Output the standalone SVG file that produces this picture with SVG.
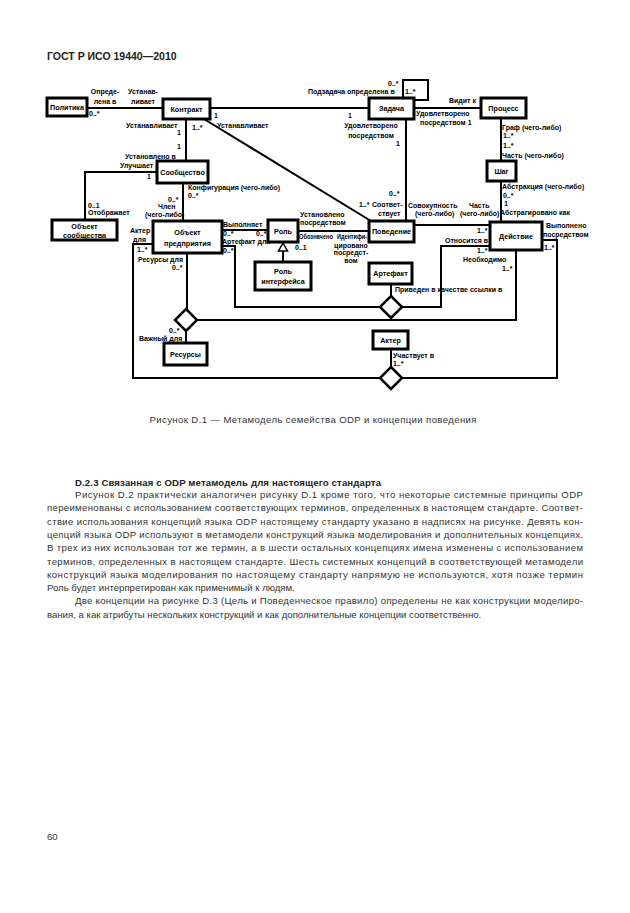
<svg xmlns="http://www.w3.org/2000/svg" width="630" height="913" viewBox="0 0 630 913">
<style>
.box{fill:#fff;stroke:#000;stroke-width:3}
.ln{fill:none;stroke:#000;stroke-width:2}
.dia{fill:#fff;stroke:#000;stroke-width:2.5}
.nt{font-family:"Liberation Sans",Arial,sans-serif;font-size:7.2px;font-weight:bold;text-anchor:middle;fill:#000}
.lb{font-family:"Liberation Sans",Arial,sans-serif;font-size:7px;font-weight:bold;fill:#000}
.mid{text-anchor:middle}
.bt{font-family:"Liberation Sans",Arial,sans-serif;font-size:9.6px;fill:#333}
.hd{font-family:"Liberation Sans",Arial,sans-serif;font-weight:bold;fill:#222}
</style>
<rect width="630" height="913" fill="#fff"/>
<text class="hd" x="47" y="60" font-size="10.5">ГОСТ Р ИСО 19440—2010</text>

<g id="connectors">
<path class="ln" d="M87,108 H163"/>
<path class="ln" d="M210,108 H369"/>
<path class="ln" d="M403,98 V80 H428 V100 H414"/>
<path class="ln" d="M414,108 H481"/>
<path class="ln" d="M501,118 V161"/>
<path class="ln" d="M501,181 V222"/>
<path class="ln" d="M406,119 V221"/>
<path class="ln" d="M204,119 L371,221"/>
<path class="ln" d="M186,119 V161"/>
<path class="ln" d="M157,172 H85 V220"/>
<path class="ln" d="M183,183 V221"/>
<path class="ln" d="M414,225 H490"/>
<path class="ln" d="M298,231 H369"/>
<path class="ln" d="M222,230 H268"/>
<path class="ln" d="M283,262 V251"/>
<polygon points="283,243 287.5,251 278.5,251" fill="#fff" stroke="#000" stroke-width="1.5"/>
<path class="ln" d="M222,246 H235 V307 H380"/>
<path class="ln" d="M402,307 H441 V246 H490"/>
<path class="ln" d="M391,284 V296"/>
<polygon class="dia" points="391,296 402,307 391,318 380,307"/>
<path class="ln" d="M187,253 V309"/>
<path class="ln" d="M186,331 V343"/>
<path class="ln" d="M197,320 H516 V250"/>
<polygon class="dia" points="186,309 197,320 186,331 175,320"/>
<path class="ln" d="M153,244 H133 V378 H380"/>
<path class="ln" d="M402,378 H557 V240 H542"/>
<path class="ln" d="M391,349 V367"/>
<polygon class="dia" points="391,367 402,378 391,389 380,378"/>
</g>

<g id="labels">
<text class="lb mid" x="105" y="94">Опреде-</text>
<text class="lb mid" x="105" y="104">лена в</text>
<text class="lb mid" x="143" y="94">Устанав-</text>
<text class="lb mid" x="143" y="104">ливает</text>
<text class="lb" x="89" y="116">0..*</text>
<text class="lb" x="214" y="118">1</text>
<text class="lb" x="217" y="128">Устанавливает</text>
<text class="lb" x="126" y="128">Устанавливает</text>
<text class="lb" x="192" y="130">1..*</text>
<text class="lb" x="177" y="135">1</text>
<text class="lb" x="177" y="149">1</text>
<text class="lb" x="125" y="158.5">Установлено в</text>
<text class="lb" x="120" y="167.5">Улучшает</text>
<text class="lb" x="147" y="179">1</text>
<text class="lb" x="388" y="86">0..*</text>
<text class="lb" x="308" y="94">Подзадача определена в</text>
<text class="lb" x="405" y="94">1..*</text>
<text class="lb" x="348" y="118">1</text>
<text class="lb mid" x="371" y="128">Удовлетворено</text>
<text class="lb mid" x="371" y="137.5">посредством</text>
<text class="lb" x="396" y="146">1</text>
<text class="lb" x="449" y="102.5">Видит к</text>
<text class="lb" x="416" y="115.5">Удовлетворено</text>
<text class="lb" x="420" y="124.5">посредством  1</text>
<text class="lb" x="502" y="129.5">Граф (чего-либо)</text>
<text class="lb" x="503" y="137.5">1..*</text>
<text class="lb" x="503" y="148">1..*</text>
<text class="lb" x="502" y="158">Часть (чего-либо)</text>
<text class="lb" x="502" y="188.5">Абстракция (чего-либо)</text>
<text class="lb" x="503" y="197.5">0..*</text>
<text class="lb" x="504" y="206">1</text>
<text class="lb" x="500" y="215">Абстрагировано как</text>
<text class="lb" x="408" y="207.5">Совокупность</text>
<text class="lb" x="415" y="216">(чего-либо)</text>
<text class="lb" x="469" y="207.5">Часть</text>
<text class="lb" x="460" y="216">(чего-либо)</text>
<text class="lb" x="477" y="232.5">1..*</text>
<text class="lb" x="389" y="195.5">0..*</text>
<text class="lb" x="359" y="206.5">1..*</text>
<text class="lb" x="372" y="206.5">Соответ-</text>
<text class="lb" x="378" y="215.5">ствует</text>
<text class="lb" x="188" y="189.5">Конфигурация (чего-либо)</text>
<text class="lb" x="188" y="197.5">0..*</text>
<text class="lb" x="168" y="202">0..*</text>
<text class="lb" x="158" y="209">Член</text>
<text class="lb" x="145" y="217">(чего-либо)</text>
<text class="lb" x="88" y="207.5">0..1</text>
<text class="lb" x="88" y="215">Отображает</text>
<text class="lb" x="130" y="233">Актер</text>
<text class="lb" x="133" y="241.5">для</text>
<text class="lb" x="137" y="252">1..*</text>
<text class="lb" x="138" y="261.5">Ресурсы для</text>
<text class="lb" x="172" y="270">0..*</text>
<text class="lb" x="223" y="227">Выполняет</text>
<text class="lb" x="223" y="236">0..*</text>
<text class="lb" x="256" y="236">0..*</text>
<text class="lb" x="222" y="243.5">Артефакт для</text>
<text class="lb" x="223" y="253">0..*</text>
<text class="lb" x="300" y="216.5">Установлено</text>
<text class="lb" x="300" y="225">посредством</text>
<text class="lb" x="299" y="238.5" textLength="34" lengthAdjust="spacingAndGlyphs">Обозначено</text>
<text class="lb" x="337" y="238.5" textLength="30" lengthAdjust="spacingAndGlyphs">Идентифи-</text>
<text class="lb mid" x="351" y="247.5">цировано</text>
<text class="lb mid" x="351" y="255">посредст-</text>
<text class="lb mid" x="351" y="262.5">вом</text>
<text class="lb" x="295" y="249.5">0..1</text>
<text class="lb" x="395" y="291.5">Приведен в качестве ссылки в</text>
<text class="lb" x="445" y="243">Относится в</text>
<text class="lb" x="477" y="252.5">1..*</text>
<text class="lb" x="463" y="261.5">Необходимо</text>
<text class="lb" x="502" y="270.5">1..*</text>
<text class="lb" x="546" y="227.5">Выполнено</text>
<text class="lb" x="543" y="236.5">посредством</text>
<text class="lb" x="544" y="249.5">1..*</text>
<text class="lb" x="393" y="357.5">Участвует в</text>
<text class="lb" x="393" y="365.5">1..*</text>
<text class="lb" x="169" y="332.5">0..*</text>
<text class="lb" x="139" y="340.5">Важный для</text>
</g>

<g id="n-politika"><rect class="box" x="47" y="98" width="40" height="18"/><text class="nt" x="67" y="109.5">Политика</text></g>
<g id="n-kontrakt"><rect class="box" x="163" y="99" width="47" height="20"/><text class="nt" x="186.5" y="111.5">Контракт</text></g>
<g id="n-zadacha"><rect class="box" x="369" y="98" width="45" height="21"/><text class="nt" x="391.5" y="111">Задача</text></g>
<g id="n-process"><rect class="box" x="481" y="98" width="45" height="20"/><text class="nt" x="503.5" y="110.5">Процесс</text></g>
<g id="n-shag"><rect class="box" x="487" y="161" width="29" height="20"/><text class="nt" x="501.5" y="173.5">Шаг</text></g>
<g id="n-soobshchestvo"><rect class="box" x="157" y="161" width="51" height="22"/><text class="nt" x="182.5" y="174.5">Сообщество</text></g>
<g id="n-obj-soobshchestva"><rect class="box" x="52" y="220" width="65" height="20"/><text class="nt" x="84.5" y="228.5">Объект</text><text class="nt" x="84.5" y="237.5">сообщества</text></g>
<g id="n-obj-predpriyatiya"><rect class="box" x="153" y="221" width="69" height="32"/><text class="nt" x="187.5" y="235">Объект</text><text class="nt" x="187.5" y="246">предприятия</text></g>
<g id="n-rol"><rect class="box" x="268" y="220" width="30" height="22"/><text class="nt" x="283" y="233.5">Роль</text></g>
<g id="n-rol-interfeisa"><rect class="box" x="255" y="262" width="56" height="28"/><text class="nt" x="283" y="274">Роль</text><text class="nt" x="283" y="284">интерфейса</text></g>
<g id="n-povedenie"><rect class="box" x="369" y="221" width="45" height="21"/><text class="nt" x="391.5" y="234">Поведение</text></g>
<g id="n-deistvie"><rect class="box" x="490" y="222" width="52" height="28"/><text class="nt" x="516" y="238.5">Действие</text></g>
<g id="n-artefakt"><rect class="box" x="369" y="263" width="43" height="21"/><text class="nt" x="390.5" y="276">Артефакт</text></g>
<g id="n-akter"><rect class="box" x="373" y="331" width="35" height="18"/><text class="nt" x="390.5" y="342.5">Актер</text></g>
<g id="n-resursy"><rect class="box" x="164" y="343" width="43" height="22"/><text class="nt" x="185.5" y="356.5">Ресурсы</text></g>

<text class="bt" x="313" y="423" text-anchor="middle" font-size="10" textLength="327" lengthAdjust="spacing">Рисунок D.1 — Метамодель семейства ODP и концепции поведения</text>

<text class="hd" x="75" y="485.5" font-size="9.6" textLength="306" lengthAdjust="spacing">D.2.3 Связанная с ODP метамодель для настоящего стандарта</text>
<text class="bt" x="75" y="498" textLength="508" lengthAdjust="spacing">Рисунок D.2 практически аналогичен рисунку D.1 кроме того, что некоторые системные принципы ODP</text>
<text class="bt" x="47" y="511.3" textLength="536" lengthAdjust="spacing">переименованы с использованием соответствующих терминов, определенных в настоящем стандарте. Соответ-</text>
<text class="bt" x="47" y="524.6" textLength="536" lengthAdjust="spacing">ствие использования концепций языка ODP настоящему стандарту указано в надписях на рисунке. Девять кон-</text>
<text class="bt" x="47" y="537.9" textLength="536" lengthAdjust="spacing">цепций языка ODP используют в метамодели конструкций языка моделирования и дополнительных концепциях.</text>
<text class="bt" x="47" y="551.2" textLength="536" lengthAdjust="spacing">В трех из них использован тот же термин, а в шести остальных концепциях имена изменены с использованием</text>
<text class="bt" x="47" y="564.5" textLength="536" lengthAdjust="spacing">терминов, определенных в настоящем стандарте. Шесть системных концепций в соответствующей метамодели</text>
<text class="bt" x="47" y="577.8" textLength="536" lengthAdjust="spacing">конструкций языка моделирования по настоящему стандарту напрямую не используются, хотя позже термин</text>
<text class="bt" x="47" y="591.1">Роль будет интерпретирован как применимый к людям.</text>
<text class="bt" x="75" y="604.4" textLength="508" lengthAdjust="spacing">Две концепции на рисунке D.3 (Цель и Поведенческое правило) определены не как конструкции моделиро-</text>
<text class="bt" x="47" y="617.7">вания, а как атрибуты нескольких конструкций и как дополнительные концепции соответственно.</text>

<text class="bt" x="47" y="840" font-size="10">60</text>
</svg>
